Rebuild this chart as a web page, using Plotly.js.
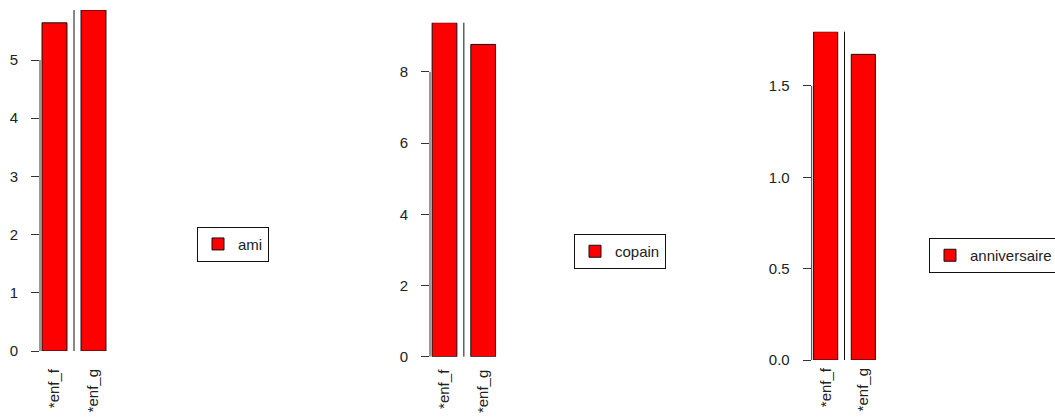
<!DOCTYPE html>
<html>
<head>
<meta charset="utf-8">
<script src="https://cdn.plot.ly/plotly-3.0.1.min.js"></script>
<style>html,body{margin:0;padding:0;background:#fff;}#chart{width:1055px;height:419px;}</style>
</head>
<body>
<div id="chart"></div>
<script>
// ---- data ----
const categories = ['*enf_f', '*enf_g'];
const amiValues = [5.64, 5.86];
const copainValues = [9.38, 8.77];
const anniversaireValues = [1.797, 1.673];
const seriesNames = ['ami', 'copain', 'anniversaire'];
const ticks1 = [0, 1, 2, 3, 4, 5];
const ticks1Text = ['0', '1', '2', '3', '4', '5'];
const ticks2 = [0, 2, 4, 6, 8];
const ticks2Text = ['0', '2', '4', '6', '8'];
const ticks3 = [0, 0.5, 1, 1.5];
const ticks3Text = ['0.0', '0.5', '1.0', '1.5'];

const FONT = 'Liberation Sans, Arial, sans-serif';
const TXT = '#222';
const fontSize = 15;

const panels = [
  {vals: amiValues, name: seriesNames[0], ticks: ticks1, tt: ticks1Text,
   xd: [40/1055, 108/1055], xr: [-0.372, 1.372], yd: [68/419, 409/419], xstand: 14, leg: {x: 197/1055, y: 1 - 226.7/419}},
  {vals: copainValues, name: seriesNames[1], ticks: ticks2, tt: ticks2Text,
   xd: [430/1055, 497.7/1055], xr: [-0.375, 1.375], yd: [62.3/419, 396.3/419], xstand: 9, leg: {x: 574/1055, y: 1 - 234/419}},
  {vals: anniversaireValues, name: seriesNames[2], ticks: ticks3, tt: ticks3Text,
   xd: [811.7/1055, 877.3/1055], xr: [-0.371, 1.371], yd: [59/419, 387.3/419], xstand: 4, leg: {x: 929/1055, y: 1 - 238/419}}
];

const data = [];
const layout = {
  width: 1055, height: 419,
  margin: {l: 0, r: 0, t: 0, b: 0, autoexpand: false},
  paper_bgcolor: '#fff', plot_bgcolor: '#fff',
  font: {family: FONT, size: fontSize, color: TXT},
  bargap: 0,
  shapes: []
};

panels.forEach((p, i) => {
  const sx = i === 0 ? '' : String(i + 1);
  const xa = 'x' + sx, ya = 'y' + sx;
  const legName = 'legend' + (i === 0 ? '' : String(i + 1));
  data.push({
    type: 'bar', x: categories, y: p.vals, name: p.name,
    xaxis: xa, yaxis: ya, legend: legName, width: 0.64,
    marker: {color: '#ff0000', line: {color: '#111', width: 1}},
    showlegend: true, hoverinfo: 'skip'
  });
  layout['xaxis' + sx] = {
    domain: p.xd, range: p.xr, type: 'category', anchor: ya,
    showline: false, showgrid: false, zeroline: false, ticks: '',
    tickangle: -90, ticklabelstandoff: p.xstand,
    tickfont: {family: FONT, size: fontSize, color: TXT}, fixedrange: true
  };
  layout['yaxis' + sx] = {
    domain: p.yd, range: [0, Math.max(...p.vals)], anchor: xa,
    showline: false, showgrid: false, zeroline: false,
    tickmode: 'array', tickvals: p.ticks, ticktext: p.tt,
    ticks: 'outside', ticklen: 8, tickwidth: 1, tickcolor: '#333',
    ticklabelstandoff: 10,
    tickfont: {family: FONT, size: fontSize, color: TXT}, fixedrange: true
  };
  layout[legName] = {
    x: p.leg.x, y: p.leg.y, xanchor: 'left', yanchor: 'top',
    xref: 'paper', yref: 'paper',
    bgcolor: '#fff', bordercolor: '#111', borderwidth: 1,
    font: {family: FONT, size: fontSize, color: TXT}
  };
  // y axis line from 0 to the last tick (R style)
  layout.shapes.push({type: 'line', xref: xa + ' domain', yref: ya,
    x0: 0, x1: 0, y0: p.ticks[0], y1: p.ticks[p.ticks.length - 1],
    line: {color: '#333', width: 1}});
  // separator between the two bars
  layout.shapes.push({type: 'line', xref: xa, yref: ya + ' domain',
    x0: 0.5, x1: 0.5, y0: 0, y1: 1, line: {color: '#111', width: 1}});
});

Plotly.newPlot('chart', data, layout, {staticPlot: true, displayModeBar: false});
</script>
</body>
</html>
